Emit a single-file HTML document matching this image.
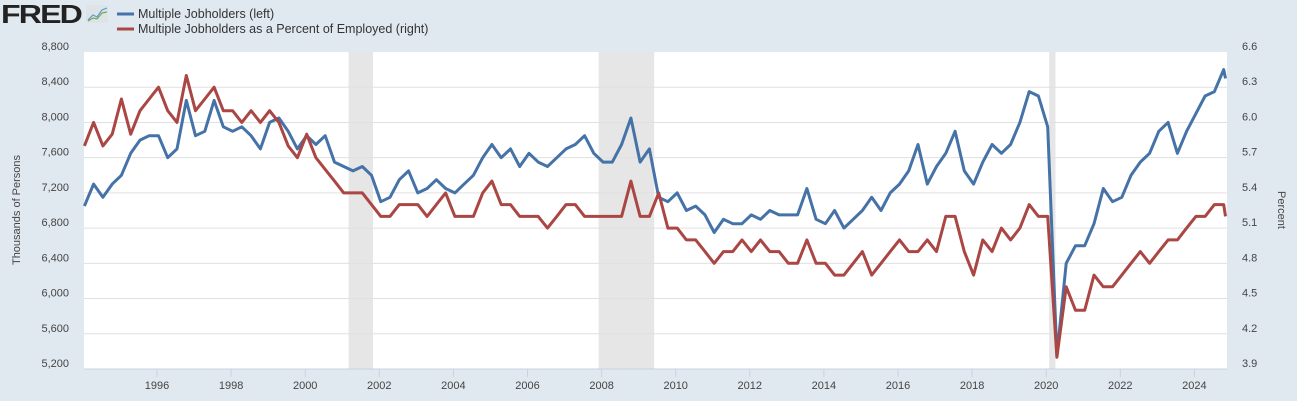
<!DOCTYPE html>
<html><head><meta charset="utf-8"><style>
body{margin:0;background:#e1e9f0;font-family:"Liberation Sans",sans-serif;}
svg{display:block}
</style></head><body>
<svg id="c" width="1297" height="401" xmlns="http://www.w3.org/2000/svg">
<rect x="0" y="0" width="1297" height="401" fill="#e1e9f0"/>
<g>
<text x="1" y="23" font-size="26" font-weight="bold" fill="#222" font-family="Liberation Sans, sans-serif" letter-spacing="-1.5" textLength="80" lengthAdjust="spacingAndGlyphs">FRED</text>
<rect x="86" y="5" width="22" height="18" rx="2" fill="#dde3e6"/>
<polyline points="88,20 93,15 97,17 102,10 107,8" fill="none" stroke="#5b9bd5" stroke-width="1.2"/>
<polyline points="88,21 93,18 97,19 102,13 107,12" fill="none" stroke="#70ad47" stroke-width="1.2"/>
</g>
<g>
<g><line x1="117" y1="14" x2="134" y2="14" stroke="#4572a7" stroke-width="3"/><text x="138" y="18" font-size="12.5" fill="#333">Multiple Jobholders (left)</text></g>
<g><line x1="117" y1="29" x2="134" y2="29" stroke="#aa4643" stroke-width="3"/><text x="138" y="33" font-size="12.5" fill="#333">Multiple Jobholders as a Percent of Employed (right)</text></g>
</g>
<rect x="84" y="52" width="1143" height="317" fill="#fff"/>
<g id="rec"></g><g id="grid"></g><g id="axes"></g><g id="lines"></g>
<text transform="translate(20,210) rotate(-90)" text-anchor="middle" font-size="11" fill="#444">Thousands of Persons</text>
<text transform="translate(1278,210) rotate(90)" text-anchor="middle" font-size="11" fill="#444">Percent</text>
</svg>
<script>
const leftTicks=[5200,5600,6000,6400,6800,7200,7600,8000,8400,8800];
const rightTicks=["3.9","4.2","4.5","4.8","5.1","5.4","5.7","6.0","6.3","6.6"];
const yearTicks=[1996,1998,2000,2002,2004,2006,2008,2010,2012,2014,2016,2018,2020,2022,2024];
const recessions=[[2001.17,2001.83],[2007.92,2009.42],[2020.08,2020.25]];
const startYear=1994;
const jobholders=[7050,7300,7150,7300, 7400,7650,7800,7850, 7850,7600,7700,8250, 7850,7900,8250,7950, 7900,7950,7850,7700, 8000,8050,7900,7700, 7850,7750,7850,7550, 7500,7450,7500,7400, 7100,7150,7350,7450, 7200,7250,7350,7250, 7200,7300,7400,7600, 7750,7600,7700,7500, 7650,7550,7500,7600, 7700,7750,7850,7650, 7550,7550,7750,8050, 7550,7700,7150,7100, 7200,7000,7050,6950, 6750,6900,6850,6850, 6950,6900,7000,6950, 6950,6950,7250,6900, 6850,7000,6800,6900, 7000,7150,7000,7200, 7300,7450,7750,7300, 7500,7650,7900,7450, 7300,7550,7750,7650, 7750,8000,8350,8300, 7950,5350,6400,6600, 6600,6850,7250,7100, 7150,7400,7550,7650, 7900,8000,7650,7900, 8100,8300,8350,8600];
const percent=[5.8,6.0,5.8,5.9, 6.2,5.9,6.1,6.2, 6.3,6.1,6.0,6.4, 6.1,6.2,6.3,6.1, 6.1,6.0,6.1,6.0, 6.1,6.0,5.8,5.7, 5.9,5.7,5.6,5.5, 5.4,5.4,5.4,5.3, 5.2,5.2,5.3,5.3, 5.3,5.2,5.3,5.4, 5.2,5.2,5.2,5.4, 5.5,5.3,5.3,5.2, 5.2,5.2,5.1,5.2, 5.3,5.3,5.2,5.2, 5.2,5.2,5.2,5.5, 5.2,5.2,5.4,5.1, 5.1,5.0,5.0,4.9, 4.8,4.9,4.9,5.0, 4.9,5.0,4.9,4.9, 4.8,4.8,5.0,4.8, 4.8,4.7,4.7,4.8, 4.9,4.7,4.8,4.9, 5.0,4.9,4.9,5.0, 4.9,5.2,5.2,4.9, 4.7,5.0,4.9,5.1, 5.0,5.1,5.3,5.2, 5.2,4.0,4.6,4.4, 4.4,4.7,4.6,4.6, 4.7,4.8,4.9,4.8, 4.9,5.0,5.0,5.1, 5.2,5.2,5.3,5.3];
const lastJob=8500, lastPct=5.2;
const NS="http://www.w3.org/2000/svg";
const X0=84,X1=1227,Y0=52,Y1=369;
function xs(yr){return 157+(yr-1996)*37.05;}
function yl(v){return Y1-(v-5200)/3600*(Y1-Y0);}
function yr(p){return Y1-(p-3.9)/2.7*(Y1-Y0);}
function mk(tag,attrs,parent){const e=document.createElementNS(NS,tag);for(const k in attrs)e.setAttribute(k,attrs[k]);document.getElementById(parent).appendChild(e);return e;}
recessions.forEach(r=>{const e=mk('rect',{x:xs(r[0]),y:Y0,width:xs(r[1])-xs(r[0]),height:Y1-Y0,fill:'#e6e6e6'},'rec');

});
leftTicks.forEach((v,i)=>{const y=yl(v);
if(i>0&&i<leftTicks.length-1){const g=mk('line',{x1:X0,x2:X1,y1:y,y2:y,stroke:'#e0e0e0','stroke-width':1},'grid');

}
const t=mk('text',{x:69,y:y-2,'text-anchor':'end','font-size':11,fill:'#444'},'axes');t.textContent=v.toLocaleString('en-US');


const t2=mk('text',{x:1242,y:y-2,'font-size':11,fill:'#444'},'axes');t2.textContent=rightTicks[i];

});
const base=mk('line',{x1:X0,x2:X1,y1:Y1,y2:Y1,stroke:'#c8d3df','stroke-width':1},'axes');


yearTicks.forEach(yv=>{const x=xs(yv);mk('line',{x1:x,x2:x,y1:Y1,y2:Y1+8,stroke:'#c8d3df'},'axes');
const t=mk('text',{x:x,y:Y1+20,'text-anchor':'middle','font-size':11,fill:'#444'},'axes');t.textContent=yv;

});
function path(arr,last,fy,color,name){let d=arr.map((v,i)=>(i?'L':'M')+xs(startYear+i*0.25+0.04).toFixed(1)+','+fy(v).toFixed(1)).join(' ');
d+=' L'+xs(2024.84).toFixed(1)+','+fy(last).toFixed(1);
const p=mk('path',{d:d,fill:'none',stroke:color,'stroke-width':3,'stroke-linejoin':'round'},'lines');

}
path(jobholders,lastJob,yl,'#4572a7','jobholders-line');
path(percent,lastPct,yr,'#aa4643','percent-line');
</script>
</body></html>
